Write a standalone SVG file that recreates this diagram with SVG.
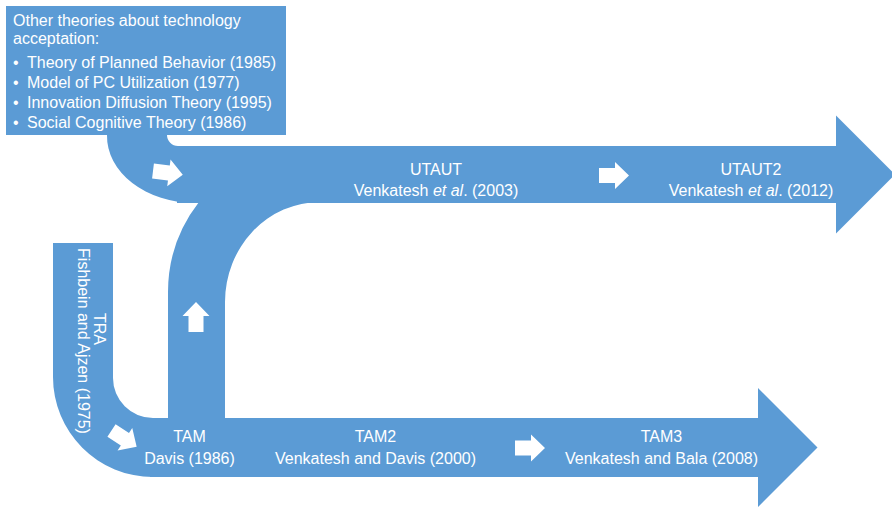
<svg xmlns="http://www.w3.org/2000/svg" width="892" height="508" viewBox="0 0 892 508">
  <defs>
    <style>
      .band { fill: #5b9bd5; stroke: none; }
      .wa { fill: #ffffff; stroke: none; }
      text { font-family: "Liberation Sans", Arial, Helvetica, sans-serif; font-size: 16px; fill: #ffffff; }
      .c { text-anchor: middle; }
    </style>
    <path id="blk" d="M0,-7.5 H16 V-13.5 L30,0 L16,13.5 V7.5 H0 Z"/>
  </defs>
  <rect width="892" height="508" fill="#ffffff"/>

  <g id="connectors">
    <!-- curved band from the box into the UTAUT arrow -->
    <path class="band" d="M107,134 H167 V135 A11 11 0 0 0 178 146 H200 V203 H195 A88 67 0 0 1 107 135 Z"/>
    <!-- upper arrow (UTAUT / UTAUT2) -->
    <path class="band" d="M177,146 H836 V115.5 L895,174.5 L836,233.5 V203 H177 Z"/>
    <!-- TAM up to UTAUT -->
    <path class="band" d="M168,420 V292 A147 147 0 0 1 199 202 H320 A95 100 0 0 0 225 302 V420 Z"/>
    <!-- TRA band -->
    <path class="band" d="M53,243 H113 V378 A40 40 0 0 0 153 418 H175 V477 H153 A100 100 0 0 1 53 377 Z"/>
    <!-- lower arrow (TAM / TAM2 / TAM3) -->
    <path class="band" d="M150,418 H758 V388 L817.5,447.5 L758,507 V477 H150 Z"/>

    <!-- small white block arrows -->
    <use href="#blk" class="wa" transform="translate(153,171) rotate(7)"/>
    <use href="#blk" class="wa" transform="translate(599,175.5)"/>
    <use href="#blk" class="wa" transform="translate(515,448)"/>
    <use href="#blk" class="wa" transform="translate(196,332) rotate(-90)"/>
    <use href="#blk" class="wa" transform="translate(111.5,430.5) rotate(33)"/>
  </g>

  <g id="other-theories">
    <rect class="band" x="6" y="6" width="280" height="129"/>
    <text x="13" y="25.5">Other theories about technology</text>
    <text x="13" y="44">acceptation:</text>
    <text x="13" y="67.5">•</text>
    <text x="27" y="67.5">Theory of Planned Behavior (1985)</text>
    <text x="13" y="87.5">•</text>
    <text x="27" y="87.5">Model of PC Utilization (1977)</text>
    <text x="13" y="107.5">•</text>
    <text x="27" y="107.5">Innovation Diffusion Theory (1995)</text>
    <text x="13" y="127.5">•</text>
    <text x="27" y="127.5">Social Cognitive Theory (1986)</text>
  </g>

  <g id="utaut">
    <text class="c" x="436" y="175">UTAUT</text>
    <text class="c" x="436" y="195.5">Venkatesh <tspan font-style="italic">et al</tspan>. (2003)</text>
  </g>

  <g id="utaut2">
    <text class="c" x="751" y="175">UTAUT2</text>
    <text class="c" x="751" y="195.5">Venkatesh <tspan font-style="italic">et al</tspan>. (2012)</text>
  </g>

  <g id="tra">
    <text class="c" transform="translate(93.5,329) rotate(90)">TRA</text>
    <text class="c" transform="translate(77.5,341) rotate(90)">Fishbein and Ajzen (1975)</text>
  </g>

  <g id="tam">
    <text class="c" x="189.5" y="441.5">TAM</text>
    <text class="c" x="189.5" y="464">Davis (1986)</text>
  </g>

  <g id="tam2">
    <text class="c" x="375.5" y="441.5">TAM2</text>
    <text class="c" x="375.5" y="464">Venkatesh and Davis (2000)</text>
  </g>

  <g id="tam3">
    <text class="c" x="661.5" y="441.5">TAM3</text>
    <text class="c" x="661.5" y="464">Venkatesh and Bala (2008)</text>
  </g>
</svg>
